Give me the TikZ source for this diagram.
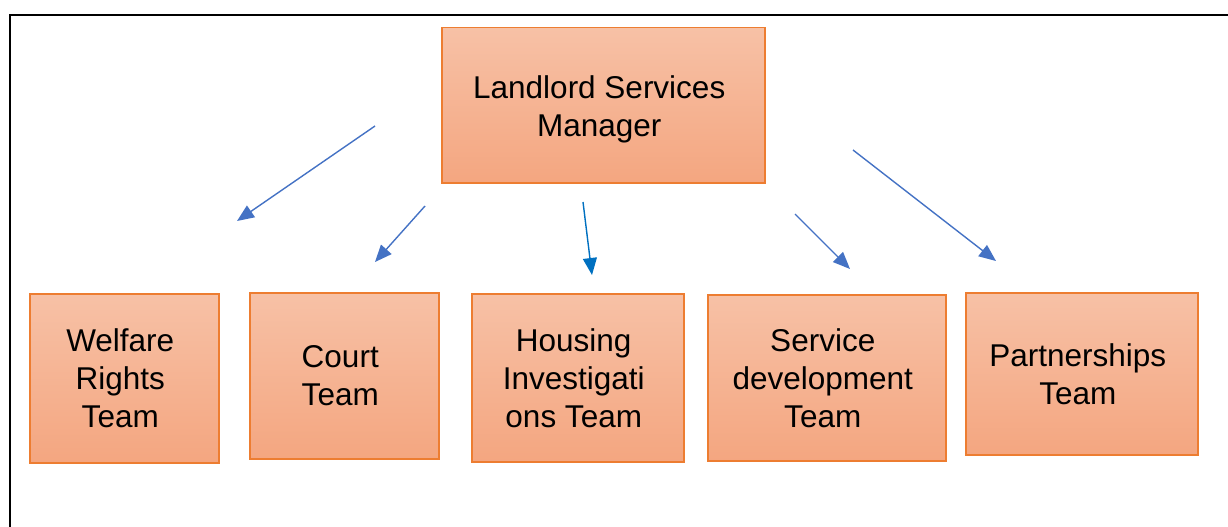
\documentclass[tikz,border=0pt]{standalone}
\usepackage{fontspec}
\setmainfont{Liberation Sans}
\usetikzlibrary{arrows.meta}
\definecolor{boxtop}{RGB}{247,193,166}
\definecolor{boxbot}{RGB}{244,166,128}
\definecolor{boxedge}{RGB}{237,125,49}
\definecolor{arrowblue}{RGB}{68,114,196}
\definecolor{arrowdeep}{RGB}{0,112,192}
\tikzset{
  teambox/.style={draw=boxedge, line width=1.5pt, top color=boxtop, bottom color=boxbot,
    inner sep=0pt, anchor=north west},
  boxtext/.style={align=center, font=\fontsize{31.5}{38}\selectfont, text=black, inner sep=0pt},
  link/.style={draw=arrowblue, line width=1.4pt, -{Triangle[length=17pt,width=14pt]}},
  frameline/.style={line width=2pt, black}
}
\begin{document}
\begin{tikzpicture}[x=1pt, y=-1pt]
  \useasboundingbox (0,0) rectangle (1228,527);
  % page frame (top and left edges)
  \draw[frameline] (1228,15) -- (10,15) -- (10,527);

  % boxes
  \node[teambox, minimum width=323pt, minimum height=155pt] (mgr) at (441,27) {};
  \node[teambox, minimum width=189pt, minimum height=169pt] (welfare) at (29,293) {};
  \node[teambox, minimum width=189pt, minimum height=166pt] (court) at (249,292) {};
  \node[teambox, minimum width=212pt, minimum height=168pt] (housing) at (471,293) {};
  \node[teambox, minimum width=238pt, minimum height=166pt] (service) at (707,294) {};
  \node[teambox, minimum width=232pt, minimum height=162pt] (partner) at (965,292) {};

  % box labels
  \node[boxtext] (mgrtxt) at ([xshift=-4pt, yshift=-4pt]mgr.center) {Landlord Services\\Manager};
  \node[boxtext] (welfaretxt) at ([xshift=-4pt]welfare.center) {Welfare\\Rights\\Team};
  \node[boxtext] (courttxt) at ([xshift=-4pt]court.center) {Court\\Team};
  \node[boxtext] (housingtxt) at ([xshift=-4pt]housing.center) {Housing\\Investigati\\ons Team};
  \node[boxtext] (servicetxt) at ([xshift=-4pt]service.center) {Service\\development\\Team};
  \node[boxtext] (partnertxt) at ([xshift=-4pt]partner.center) {Partnerships\\Team};

  % free-standing arrows between the rows
  \coordinate (a1s) at (375,126);  \coordinate (a1e) at (237,221);
  \coordinate (a2s) at (425,206);  \coordinate (a2e) at (375,262);
  \coordinate (a3s) at (583,202);  \coordinate (a3e) at (592,275);
  \coordinate (a4s) at (795,214);  \coordinate (a4e) at (850,269);
  \coordinate (a5s) at (853,150);  \coordinate (a5e) at (996,261);

  \draw[link] (a1s) -- (a1e);
  \draw[link] (a2s) -- (a2e);
  \draw[link, draw=arrowdeep] (a3s) -- (a3e);
  \draw[link] (a4s) -- (a4e);
  \draw[link] (a5s) -- (a5e);
\end{tikzpicture}
\end{document}
